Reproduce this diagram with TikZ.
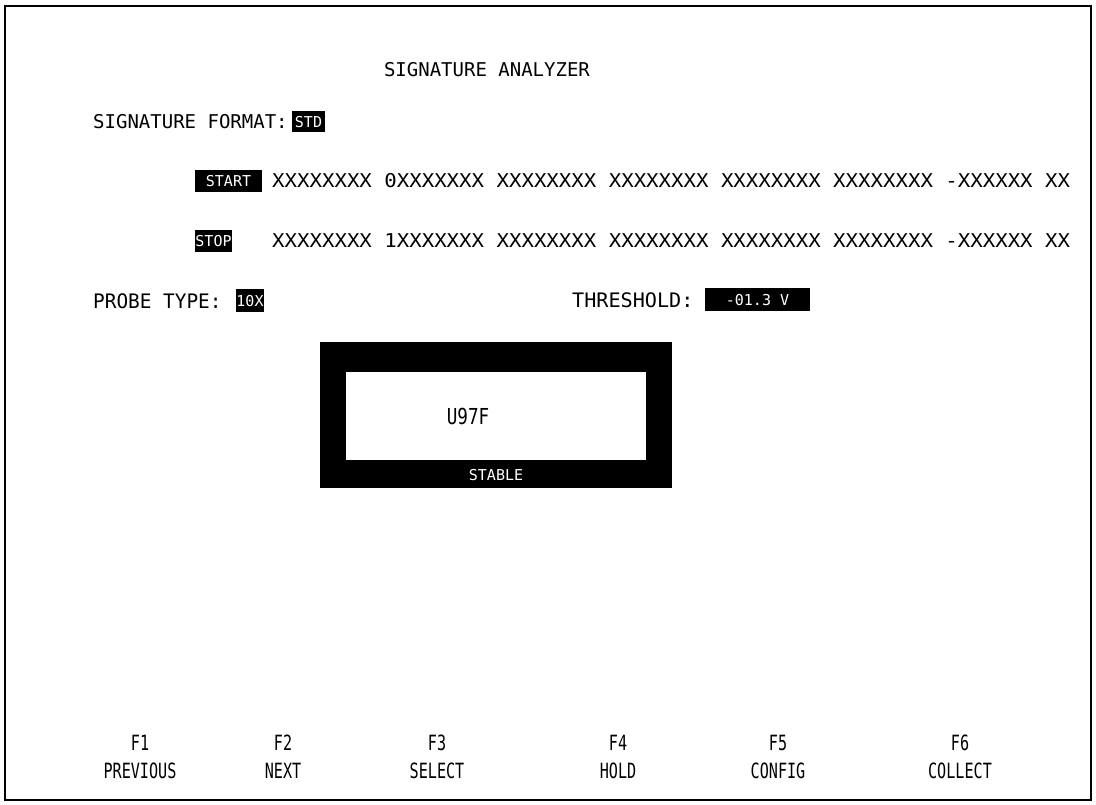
\documentclass[tikz,border=0pt]{standalone}
\usepackage{fontspec}
\newfontfamily\term{DejaVu Sans Mono}
\begin{document}
\begin{tikzpicture}[x=1pt,y=-1pt,
  txt/.style={font=\term\fontsize{19}{19}\selectfont, inner sep=0pt, text=black},
  keytxt/.style={font=\term\fontsize{21}{21}\selectfont, inner sep=0pt},
  inv/.style={fill=black, text=white, inner sep=0pt, font=\term\fontsize{15}{15}\selectfont},
  blk/.style={fill=black, draw=none}]
\useasboundingbox (0,0) rectangle (1096,805);
\draw[line width=2.5pt] (5,6) rectangle (1091,800);
% title
\node[txt] (title) at (487,70) {SIGNATURE ANALYZER};
% signature format
\node[txt, anchor=west] (sigfmt) at (93,122) {SIGNATURE FORMAT:};
\node[inv, minimum width=33pt, minimum height=21pt] (std) at (308.5,122) {STD};
% start/stop
\node[inv, minimum width=67pt, minimum height=22pt] (start) at (228.5,181) {START};
\node[txt, anchor=west] (startrow) at (272,181) {\scalebox{1.09}[1]{XXXXXXXX 0XXXXXXX XXXXXXXX XXXXXXXX XXXXXXXX XXXXXXXX -XXXXXX XX}};
\node[inv, minimum width=37pt, minimum height=22pt] (stop) at (213.5,241) {STOP};
\node[txt, anchor=west] (stoprow) at (272,241) {\scalebox{1.09}[1]{XXXXXXXX 1XXXXXXX XXXXXXXX XXXXXXXX XXXXXXXX XXXXXXXX -XXXXXX XX}};
% probe / threshold
\node[txt, anchor=west] (probe) at (93,301) {\scalebox{1.02}[1.05]{PROBE TYPE:}};
\node[inv, minimum width=27pt, minimum height=23pt] (ptype) at (250,301) {10X};
\node[txt, anchor=west] (thr) at (572,300) {\scalebox{1.06}[1.05]{THRESHOLD:}};
\node[inv, minimum width=105pt, minimum height=23pt] (thrval) at (757.5,300) {-01.3 V};
% display box
\fill[blk] (320,342) rectangle (672,488);
\fill[white] (346,372) rectangle (646,460);
\node[font=\term\fontsize{22}{22}\selectfont, inner sep=0pt] (sig) at (468,416) {\scalebox{0.8}[1]{U97F}};
\node[inv] (stable) at (496,475) {STABLE};
% function keys
\foreach \x/\k/\lab [count=\i] in {140/F1/PREVIOUS, 283/F2/NEXT, 437/F3/SELECT, 618/F4/HOLD, 778/F5/CONFIG, 960/F6/COLLECT}{
  \node[keytxt] (fk\i) at (\x,743) {\scalebox{0.72}[1]{\k}};
  \node[keytxt] (fl\i) at (\x,771) {\scalebox{0.72}[1]{\lab}};
}
\end{tikzpicture}
\end{document}
